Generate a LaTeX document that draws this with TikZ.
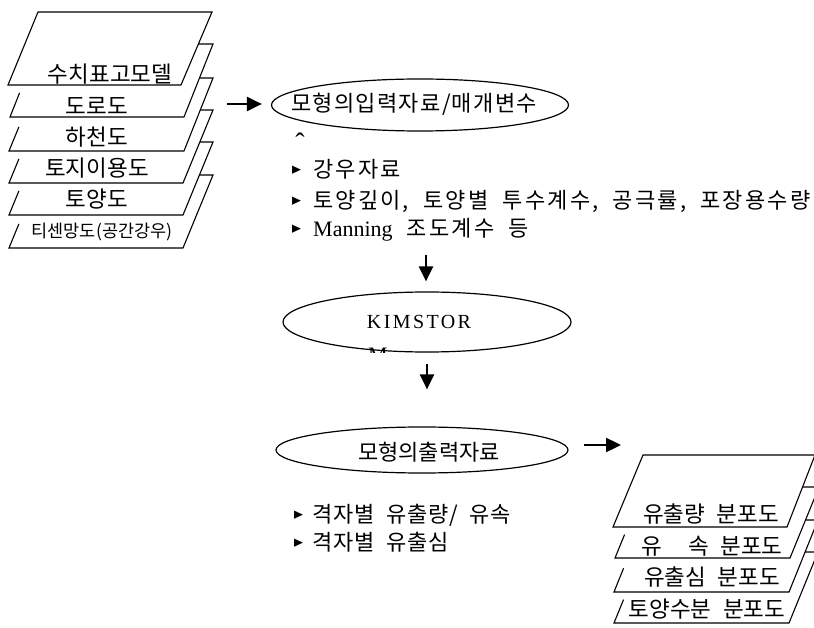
\documentclass[tikz,border=0pt]{standalone}
\usepackage{fontspec}
\setmainfont{Noto Sans CJK KR}
\newfontfamily\lserif{Liberation Serif}
\newfontfamily\dv{DejaVu Sans}
\newfontfamily\krlab[WordSpace=2.3]{Noto Sans CJK KR}
\newfontfamily\krhead[LetterSpace=6]{Noto Sans CJK KR}
\newfontfamily\krheadb[LetterSpace=0]{Noto Sans CJK KR}
\newfontfamily\krbul[LetterSpace=10,WordSpace=2]{Noto Sans CJK KR}
\newfontfamily\krbulb[LetterSpace=4,WordSpace=2]{Noto Sans CJK KR}
\newfontfamily\kimfont[LetterSpace=12]{Liberation Serif}
\usetikzlibrary{arrows.meta,shapes.geometric,calc}

\newcommand\backsheet[4]{%
  \fill[white] #1 -- #2 -- #3 -- #4 -- cycle;
  \draw[sheet] ($#1!0.33!#4$) -- #1 -- #2 -- #3 -- #4;}
\newcommand\frontsheet[4]{%
  \fill[white] #1 -- #2 -- #3 -- #4 -- cycle;
  \draw[sheet] #1 -- #2 -- #3 -- #4 -- cycle;}
\newcommand\bmk{\raisebox{3pt}{\resizebox{9pt}{8.5pt}{\dv ►}}}

\begin{document}
\begin{tikzpicture}[x=1pt,y=-1pt,
  sheet/.style={line width=1.1pt, line join=miter},
  arr/.style={line width=2.4pt, -{Triangle[length=15pt,width=14pt]}},
  oval/.style={ellipse, draw, line width=1.2pt, inner sep=0pt},
  lbl/.style={inner sep=0pt, font=\fontsize{22.5}{26}\selectfont\krlab},
  bul/.style={inner sep=0pt, anchor=west, font=\fontsize{22}{26}\selectfont\krbul},
  bulb/.style={inner sep=0pt, anchor=west, font=\fontsize{22}{26}\selectfont\krbulb}]

\fill[white] (0,0) rectangle (814,628);
\useasboundingbox (0,0) rectangle (814,628);
\clip (0,0) rectangle (814,628);

% left stack (back to front)
\backsheet{(9,248)}{(183,248)}{(213,175)}{(39,175)}
\backsheet{(9,215)}{(183,215)}{(213,142)}{(39,142)}
\backsheet{(9,183)}{(183,183)}{(213,110)}{(39,110)}
\backsheet{(9,151)}{(184,151)}{(213,78)}{(39,78)}
\backsheet{(10,117)}{(184,117)}{(213,44)}{(39,44)}
\frontsheet{(8,85)}{(181,85)}{(212,12)}{(38,12)}

\node[lbl] (t1) at (110,74) {수치표고모델};
\node[lbl] (t2) at (97,106) {도로도};
\node[lbl] (t3) at (97,137) {하천도};
\node[lbl] (t4) at (97,168) {토지이용도};
\node[lbl] (t5) at (97,199) {토양도};
\node[inner sep=0pt, font=\fontsize{17.5}{20}\selectfont] (t6) at (102,232) {티센망도(공간강우)};

% right stack
\backsheet{(614,623)}{(789,623)}{(818,552)}{(643,552)}
\backsheet{(614,592)}{(789,592)}{(818,520)}{(643,520)}
\backsheet{(615,558)}{(790,558)}{(819,487)}{(644,487)}
\frontsheet{(613,527)}{(787,527)}{(815,455)}{(643,455)}

\node[lbl] (r1) at (711,514) {유출량 분포도};
\node[lbl] (r2) at (712,546) {유\hspace{26pt}속 분포도};
\node[lbl] (r3) at (712,577) {유출심 분포도};
\node[lbl] (r4) at (707,609) {토양수분 분포도};

% ellipses
\node[oval, minimum width=297pt, minimum height=52pt] (e1) at (420,105) {};
\node[inner sep=0pt, font=\fontsize{22}{26}\selectfont\krhead] (e1t) at ([xshift=-6pt,yshift=1pt]e1.center) {모형의입력자료/매개변수};
\node[oval, minimum width=288pt, minimum height=60pt] (e2) at (427,322) {};
\node[inner sep=0pt, font=\fontsize{20}{24}\selectfont\kimfont] (e2t) at ([xshift=-8pt]e2.center) {KIMSTOR};
\node[oval, minimum width=292pt, minimum height=46pt] (e3) at (422,450) {};
\node[inner sep=0pt, font=\fontsize{22}{26}\selectfont\krheadb] (e3t) at ([xshift=7pt,yshift=-2pt]e3.center) {모형의출력자료};

% fragments
\node[font=\lserif\fontsize{28}{28}\selectfont, inner sep=0pt, anchor=north] (caret) at (300,133) {ˆ};
\begin{scope}
\clip (360,347) rectangle (400,352);
\node[font=\lserif\fontsize{22}{22}\selectfont, inner sep=0pt, anchor=north west] (mfrag) at (368,348) {M};
\end{scope}

% bullet lists
\node[bul] (b1) at (292,169) {\bmk\hspace{12pt}강우자료};
\node[bul] (b2) at (292,201) {\bmk\hspace{12pt}토양깊이, 토양별 투수계수, 공극률, 포장용수량};
\node[bul] (b3) at (292,230) {\bmk\hspace{12pt}{\lserif Manning} 조도계수 등};
\node[bulb] (o1) at (294,515) {\bmk\hspace{9pt}격자별 유출량/ 유속};
\node[bulb] (o2) at (294,542) {\bmk\hspace{9pt}격자별 유출심};

% arrows
\coordinate (a1s) at (227,104);
\draw[arr, shorten >=9pt] (a1s) -- (a1s -| e1.west);
\coordinate (a2s) at (426,255);
\draw[arr, shorten >=10pt] (a2s) -- (a2s |- e2.north);
\draw[arr, shorten <=11pt, shorten >=37pt] (e2.south) -- (e2.south |- e3.north);
\coordinate (a4e) at (621,445);
\draw[arr, shorten <=15pt] (e3.east |- a4e) -- (a4e);
\end{tikzpicture}
\end{document}
